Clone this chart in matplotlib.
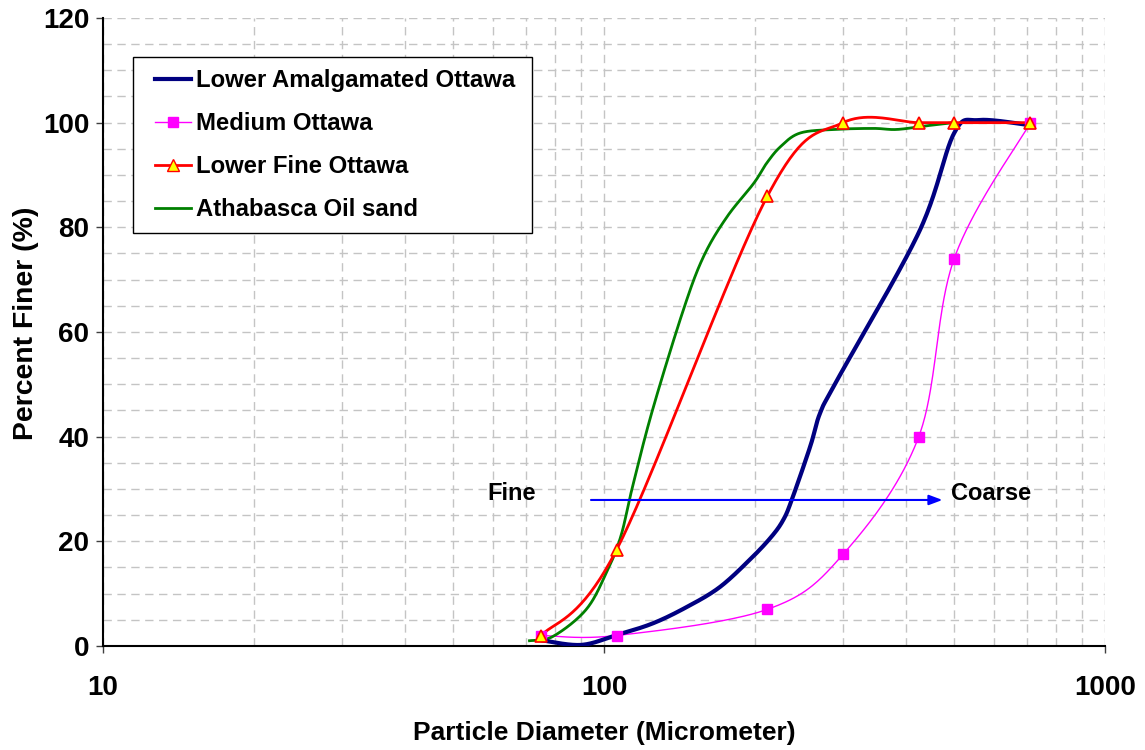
import numpy as np
import matplotlib
matplotlib.use("Agg")
import matplotlib.pyplot as plt
from matplotlib.ticker import FixedLocator, NullFormatter
from matplotlib.legend_handler import HandlerLine2D

plt.rcParams['font.family'] = ['Liberation Sans', 'DejaVu Sans']
plt.rcParams['font.weight'] = 'bold'

# Sieve sizes (micrometer) and percent finer for each sample
amalg_d = [75, 90, 106, 125, 146, 170, 196, 216, 228, 237, 258, 270, 292, 425, 500, 560, 710]
amalg_p = [1.1, 0.2, 2.1, 4.3, 7.4, 11.2, 16.6, 20.9, 24.1, 27.9, 38.1, 44.5, 50.8, 79.0, 98.0, 100.5, 99.5]

medium_d = [75, 106, 212, 300, 425, 500, 710]
medium_p = [2.0, 2.0, 7.0, 17.5, 40.0, 74.0, 100.0]

fine_d = [75, 106, 212, 300, 425, 500, 710]
fine_p = [2.0, 18.4, 86.0, 100.0, 100.0, 100.0, 100.0]

oil_d = [71, 79, 92, 101, 108, 114, 125, 144, 158, 176, 199, 211, 225, 246, 287, 345, 384, 440, 498]
oil_p = [1.0, 1.8, 6.9, 13.9, 20.9, 30.4, 45.1, 64.2, 74.4, 82.0, 88.4, 92.2, 95.4, 98.0, 98.7, 98.9, 98.7, 99.4, 100.0]

labels = ["Lower Amalgamated Ottawa", "Medium Ottawa", "Lower Fine Ottawa", "Athabasca Oil sand"]


def smooth(d, p, n=40):
    """Bezier smoothing through the points in (log10 d, p) space."""
    P = np.column_stack([np.log10(d), p]).astype(float)
    m = len(P)
    out = [P[:1]]
    t = np.linspace(0, 1, n)[1:, None]
    for i in range(m - 1):
        p0 = P[i - 1] if i > 0 else P[i]
        p1, p2 = P[i], P[i + 1]
        p3 = P[i + 2] if i + 2 < m else P[i + 1]
        c1 = p1 + (p2 - p0) / 6.0
        c2 = p2 - (p3 - p1) / 6.0
        seg = ((1 - t) ** 3) * p1 + 3 * ((1 - t) ** 2) * t * c1 + 3 * (1 - t) * t ** 2 * c2 + t ** 3 * p2
        out.append(seg)
    S = np.vstack(out)
    return 10 ** S[:, 0], S[:, 1]


fig = plt.figure(figsize=(11.45, 7.5), dpi=100)
ax = fig.add_axes([0.090, 0.1387, 0.875, 0.8373])
ax.set_xscale('log')
ax.set_xlim(10, 1000)
ax.set_ylim(0, 120)

# grid
ax.xaxis.set_major_locator(FixedLocator([10, 100, 1000]))
ax.xaxis.set_minor_locator(FixedLocator([k * 10 ** e for e in (1, 2) for k in range(2, 10)]))
ax.xaxis.set_minor_formatter(NullFormatter())
ax.yaxis.set_major_locator(FixedLocator(np.arange(0, 121, 20)))
ax.yaxis.set_minor_locator(FixedLocator(np.arange(5, 120, 5)))
grid_kw = dict(color='#c4c4c4', linestyle=(0, (6, 4)), linewidth=1.0)
ax.grid(True, which='both', axis='both', **grid_kw)
ax.set_axisbelow(True)

ax.tick_params(axis='both', which='major', direction='out', length=5, width=1, labelsize=20,
               pad=5, color='#404040')
ax.tick_params(axis='both', which='minor', length=0)
ax.set_xticklabels(['10', '100', '1000'], fontweight='bold')
for lab in ax.get_yticklabels():
    lab.set_fontweight('bold')
ax.tick_params(axis='x', pad=16)

for side in ('top', 'right'):
    ax.spines[side].set_visible(False)
for side in ('left', 'bottom'):
    ax.spines[side].set_linewidth(1.5)
    ax.spines[side].set_color('black')

# series
xs, ys = smooth(amalg_d, amalg_p)
ax.plot(xs, ys, color='#000080', lw=3.0, solid_capstyle='round', zorder=4)

xs, ys = smooth(medium_d, medium_p)
ax.plot(xs, ys, color='#FF00FF', lw=1.0, zorder=3)
ax.plot(medium_d, medium_p, ls='none', marker='s', ms=7, mfc='#FF00FF', mec='#FF00FF', zorder=5)

xs, ys = smooth(fine_d, fine_p)
ax.plot(xs, ys, color='#FF0000', lw=2.0, zorder=4)
ax.plot(fine_d, fine_p, ls='none', marker='^', ms=8, mfc='#FFFF00', mec='#FF0000', mew=1.2, zorder=6)

xs, ys = smooth(oil_d, oil_p)
ax.plot(xs, ys, color='#008000', lw=2.0, zorder=3)

# legend
h1 = plt.Line2D([], [], color='#000080', lw=3.0)
h2 = plt.Line2D([], [], color='#FF00FF', lw=1.0, marker='s', ms=7, mfc='#FF00FF', mec='#FF00FF')
h3 = plt.Line2D([], [], color='#FF0000', lw=2.0, marker='^', ms=8, mfc='#FFFF00', mec='#FF0000')
h4 = plt.Line2D([], [], color='#008000', lw=2.0)
handler = HandlerLine2D(xpad=0.40)
leg = ax.legend([h1, h2, h3, h4], labels, loc='upper left',
                bbox_to_anchor=(0.030, 0.669, 0.398, 0.269), mode='expand',
                frameon=True, fancybox=False, framealpha=1, edgecolor='black',
                prop=dict(family='Liberation Sans', weight='bold', size=17.2),
                handlelength=1.94, handletextpad=0.21, labelspacing=0.84,
                borderpad=0.50, borderaxespad=0.0,
                handler_map={h: handler for h in (h1, h2, h3, h4)})
leg.get_frame().set_linewidth(1.0)

# fine-to-coarse arrow
ax.annotate('', xy=(480, 27.9), xytext=(93, 27.9),
            arrowprops=dict(arrowstyle='-|>,head_length=0.8,head_width=0.3', color='#0000FF', lw=1.5),
            zorder=7)
ax.text(65.5, 29.2, 'Fine', ha='center', va='center', fontsize=17, fontweight='bold')
ax.text(492, 29.2, 'Coarse', ha='left', va='center', fontsize=17, fontweight='bold')

ax.set_xlabel('Particle Diameter (Micrometer)', fontsize=19, fontweight='bold', labelpad=14)
ax.set_ylabel('Percent Finer (%)', fontsize=20.4, fontweight='bold')
ax.yaxis.set_label_coords(-0.064, 0.514)

fig.savefig('out.png', dpi=100)
